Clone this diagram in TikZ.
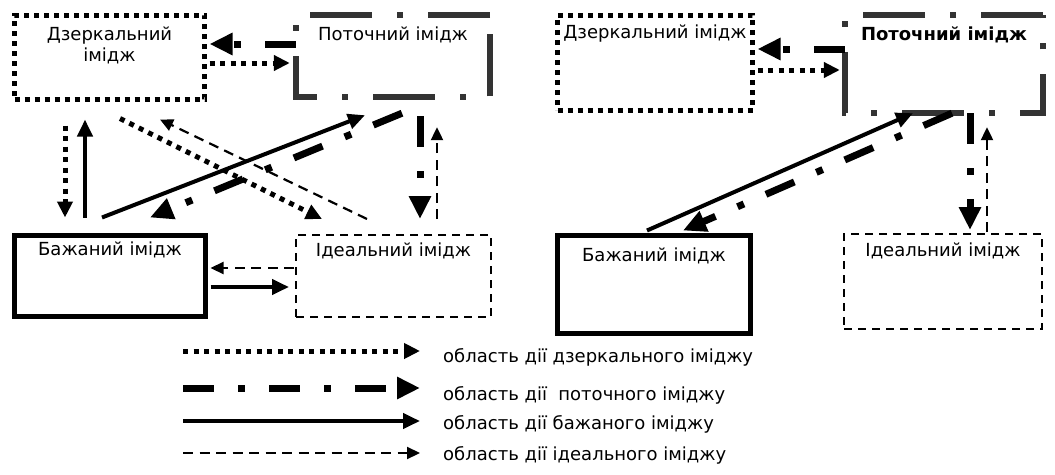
\documentclass[tikz,border=0pt]{standalone}
\usepackage{fontspec}
\setmainfont{DejaVu Sans}
\usetikzlibrary{arrows.meta,positioning}

\definecolor{curgrey}{HTML}{333333}

\tikzset{
  boxtext/.style={font=\fontsize{18}{21}\selectfont, align=center, inner sep=0pt},
  legtext/.style={font=\fontsize{18}{21}\selectfont, anchor=base west, inner sep=0pt},
  mirbox/.style={draw, line width=5pt, dash pattern=on 5pt off 5pt, inner sep=0pt},
  curbox/.style={inner sep=0pt},
  curline/.style={draw=curgrey, line width=6pt, dash pattern=on 62pt off 25pt on 6pt off 25pt},
  desbox/.style={draw, line width=5pt, inner sep=0pt},
  idlbox/.style={draw, line width=2pt, dash pattern=on 8pt off 6pt, inner sep=0pt},
  mirarrow/.style={line width=5pt, dash pattern=on 5pt off 5.5pt, -{Triangle[length=16pt,width=15pt]}},
  curarrow/.style={line width=7pt, dash pattern=on 31pt off 24pt on 7pt off 24pt, -{Triangle[length=23pt,width=21pt]}},
  desarrow/.style={line width=4pt, -{Triangle[length=17pt,width=15pt]}},
  idlarrow/.style={line width=2.2pt, dash pattern=on 10pt off 6.5pt, -{Triangle[length=13pt,width=12pt]}}
}

\begin{document}
\begin{tikzpicture}[x=1pt, y=-1pt]
  \useasboundingbox (0,0) rectangle (1055,474);

  % left diagram
  \node[mirbox, minimum width=190pt, minimum height=84pt] (mirL) at (109.5,57) {};
  \node[curbox, minimum width=194pt, minimum height=82pt] (curL) at (393,56) {};
  \node[desbox, minimum width=191pt, minimum height=81pt] (desL) at (110,276) {};
  \node[idlbox, minimum width=195pt, minimum height=82pt] (idlL) at (393.5,276) {};
  \draw[curline] (curL.north east) -- (curL.north west) -- (curL.south west) -- (curL.south east) -- cycle;

  \node[boxtext, below=14pt of mirL.north] (mirLt) {Дзеркальний\\імідж};
  \node[boxtext, anchor=base] (curLt) at ([shift={(0,26)}]curL.north) {Поточний імідж};
  \node[boxtext, anchor=base] (desLt) at ([shift={(0,22.5)}]desL.north) {Бажаний імідж};
  \node[boxtext, anchor=base] (idlLt) at ([shift={(0,22)}]idlL.north) {Ідеальний імідж};

  \draw[curarrow] ([shift={(0,-12)}]curL.west) -- ([shift={(2.5,-13)}]mirL.east);
  \draw[mirarrow] ([shift={(2.5,6)}]mirL.east) -- ([shift={(-6,7)}]curL.west);
  \draw[mirarrow] ([shift={(-44.5,24)}]mirL.south) -- ([shift={(-45,-15.5)}]desL.north);
  \draw[desarrow] ([shift={(-25,-15.5)}]desL.north) -- ([shift={(-24.5,18)}]mirL.south);
  \draw[mirarrow] ([shift={(10.5,17)}]mirL.south) -- ([shift={(-71.5,-15)}]idlL.north);
  \draw[idlarrow] ([shift={(-26.5,-15)}]idlL.north) -- ([shift={(50.5,18)}]mirL.south);
  \draw[desarrow] ([shift={(-8,-15.5)}]desL.north) -- ([shift={(-28,18)}]curL.south);
  \draw[curarrow] ([shift={(9,16)}]curL.south) -- ([shift={(40,-15.5)}]desL.north);
  \draw[curarrow] ([shift={(27,19)}]curL.south) -- ([shift={(26.5,-15)}]idlL.north);
  \draw[idlarrow] ([shift={(43.5,-15)}]idlL.north) -- ([shift={(44,30)}]curL.south);
  \draw[idlarrow] ([shift={(-1,-8)}]idlL.west) -- ([shift={(2.5,-8)}]desL.east);
  \draw[desarrow] ([shift={(2.5,11)}]desL.east) -- ([shift={(-6,11)}]idlL.west);

  % right diagram
  \node[mirbox, minimum width=195pt, minimum height=95pt] (mirR) at (655,62.5) {};
  \node[curbox, minimum width=198pt, minimum height=98pt] (curR) at (944,64) {};
  \node[desbox, minimum width=193pt, minimum height=98pt] (desR) at (654,284.5) {};
  \node[idlbox, minimum width=198pt, minimum height=95pt] (idlR) at (943,281.5) {};
  \draw[curline] (curR.north east) -- (curR.north west) -- (curR.south west) -- (curR.south east) -- cycle;

  \node[boxtext, anchor=base] (mirRt) at ([shift={(0,26)}]mirR.north) {Дзеркальний імідж};
  \node[boxtext, anchor=base, font=\fontsize{18}{21}\selectfont\bfseries] (curRt) at ([shift={(0,26)}]curR.north) {Поточний імідж};
  \node[boxtext, anchor=base] (desRt) at ([shift={(0,28.5)}]desR.north) {Бажаний імідж};
  \node[boxtext, anchor=base] (idlRt) at ([shift={(0,23)}]idlR.north) {Ідеальний імідж};

  \draw[curarrow] ([shift={(0,-15)}]curR.west) -- ([shift={(2.5,-13.5)}]mirR.east);
  \draw[mirarrow] ([shift={(2.5,7.5)}]mirR.east) -- ([shift={(-5,6)}]curR.west);
  \draw[desarrow] ([shift={(-7,-2.5)}]desR.north) -- ([shift={(-31,0)}]curR.south);
  \draw[curarrow] ([shift={(8,0)}]curR.south) -- ([shift={(29,-2.5)}]desR.north);
  \draw[curarrow] ([shift={(26,0)}]curR.south) -- ([shift={(27,-3)}]idlR.north);
  \draw[idlarrow] ([shift={(44,-1)}]idlR.north) -- ([shift={(43,14)}]curR.south);

  % legend
  \node[legtext] (legMir) at (443,362) {область дії дзеркального іміджу};
  \node[legtext] (legCur) at (443,400) {область дії\ \ поточного іміджу};
  \node[legtext] (legDes) at (443,429) {область дії бажаного іміджу};
  \node[legtext] (legIdl) at (443,460) {область дії ідеального іміджу};

  \coordinate (keyMir) at (183,351);
  \coordinate (keyCur) at (183,388);
  \coordinate (keyDes) at (183,421);
  \coordinate (keyIdl) at (183,453);

  \draw[mirarrow] (keyMir) -- ([shift={(-23,-11)}]legMir.base west);
  \draw[curarrow] (keyCur) -- ([shift={(-23,-12)}]legCur.base west);
  \draw[desarrow] (keyDes) -- ([shift={(-23,-8)}]legDes.base west);
  \draw[idlarrow] (keyIdl) -- ([shift={(-23,-7)}]legIdl.base west);
\end{tikzpicture}
\end{document}
